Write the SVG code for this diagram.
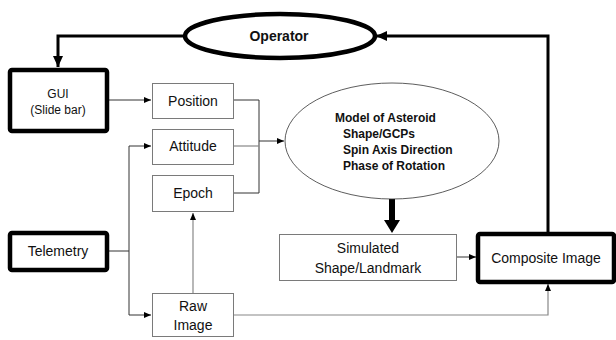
<svg xmlns="http://www.w3.org/2000/svg" width="616" height="340" viewBox="0 0 616 340">
<defs>
<style>
text{font-family:"Liberation Sans",Arial,sans-serif;fill:#111}
.box{fill:#fff;stroke:#7a7a7a;stroke-width:1}
.bold{fill:#fff;stroke:#000;stroke-width:4.5}
.thin{fill:none;stroke:#333;stroke-width:1}
.gray{fill:none;stroke:#888;stroke-width:1.2}
.thick{fill:none;stroke:#000;stroke-width:3}
.c{text-anchor:middle}
</style>
<marker id="a" markerWidth="8" markerHeight="8" refX="7" refY="4" orient="auto" markerUnits="userSpaceOnUse"><path d="M0,1 L7,4 L0,7 Z" fill="#000"/></marker>
<marker id="ab" markerWidth="12" markerHeight="12" refX="11" refY="6" orient="auto" markerUnits="userSpaceOnUse"><path d="M0,1 L11,6 L0,11 Z" fill="#000"/></marker>
</defs>
<g id="connectors">
<path class="thick" d="M185,36 H58 V67" marker-end="url(#ab)"/>
<path class="thick" d="M548,233 V36 H376" marker-end="url(#ab)"/>
<path class="thin" d="M107,100 H151" marker-end="url(#a)"/>
<path class="thin" d="M234,100 H259 V193 H234"/>
<path class="gray" d="M234,146 H259"/>
<path class="thin" d="M259,141 H284" marker-end="url(#a)"/>
<path class="thin" d="M107,251 H129 V146 H151" marker-end="url(#a)"/>
<path class="thin" d="M129,251 V315 H151" marker-end="url(#a)"/>
<path class="gray" d="M193,293 V213" marker-end="url(#a)"/>
<path class="gray" d="M234,315 H548 V284" marker-end="url(#a)"/>
<path class="thin" d="M457,257 H476" marker-end="url(#a)"/>
<path d="M389,199 H395 V220 H400 L392,233 L384,220 H389 Z" fill="#000"/>
</g>
<g id="operator">
<ellipse cx="280" cy="36" rx="95" ry="22" fill="#fff" stroke="#000" stroke-width="4.5"/>
<text x="279" y="41" class="c" font-size="14" font-weight="bold">Operator</text>
</g>
<g id="gui">
<rect class="bold" x="10" y="70" width="97" height="61" rx="2"/>
<text x="58" y="98" class="c" font-size="12">GUI</text>
<text x="58" y="114" class="c" font-size="12">(Slide bar)</text>
</g>
<g id="position">
<rect class="box" x="152.5" y="83.5" width="81" height="35"/>
<text x="193" y="106" class="c" font-size="14">Position</text>
</g>
<g id="attitude">
<rect class="box" x="152.5" y="129.5" width="81" height="35"/>
<text x="193" y="151" class="c" font-size="14">Attitude</text>
</g>
<g id="epoch">
<rect class="box" x="152.5" y="175.5" width="81" height="36"/>
<text x="193" y="198" class="c" font-size="14">Epoch</text>
</g>
<g id="model">
<ellipse cx="392" cy="141" rx="107" ry="58" fill="#fff" stroke="#333" stroke-width="0.8"/>
<text x="335" y="122" font-size="12" font-weight="bold">Model of Asteroid</text>
<text x="343" y="138" font-size="12" font-weight="bold">Shape/GCPs</text>
<text x="343" y="154" font-size="12" font-weight="bold">Spin Axis Direction</text>
<text x="343" y="170" font-size="12" font-weight="bold">Phase of Rotation</text>
</g>
<g id="telemetry">
<rect class="bold" x="10" y="233" width="97" height="37" rx="2"/>
<text x="58" y="256" class="c" font-size="14">Telemetry</text>
</g>
<g id="rawimage">
<rect class="box" x="152.5" y="293.5" width="81" height="43"/>
<text x="193" y="311" class="c" font-size="14">Raw</text>
<text x="193" y="330" class="c" font-size="14">Image</text>
</g>
<g id="simulated">
<rect class="box" x="279.5" y="234.5" width="177" height="46"/>
<text x="368" y="253" class="c" font-size="14">Simulated</text>
<text x="368" y="273" class="c" font-size="14">Shape/Landmark</text>
</g>
<g id="composite">
<rect class="bold" x="478" y="234" width="136" height="48" rx="2"/>
<text x="546" y="263" class="c" font-size="14">Composite Image</text>
</g>
</svg>
